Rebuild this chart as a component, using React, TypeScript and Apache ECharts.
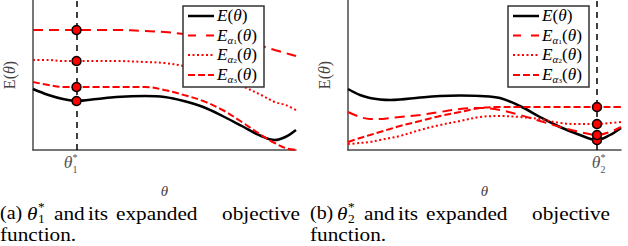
import React, { useEffect, useRef } from "react";
import * as echarts from "echarts";

// ---- data (θ in plot units, E in plot units) ----
const thetaLeft = [0, 16, 31, 45, 66, 86, 116, 136, 156, 176, 196, 216, 236, 250, 261, 272];
const leftE = [61, 55, 51, 49, 51, 53, 54, 53, 49, 43, 34, 24, 14, 10, 13, 20];
const leftA1 = [120, 120, 120, 120, 120, 120, 119, 118, 116, 113, 111, 108, 104, 100, 97, 94];
const leftA2 = [90, 90, 89, 89, 89, 89, 88, 87, 84, 80, 72, 64, 55, 48, 45, 40];
const leftA3 = [68, 65, 63, 63, 63, 63, 63, 60, 55, 49, 40, 28, 15, 7, 2, 0];
const thetaStarLeft = 45;

const thetaRight = [0, 12, 22, 32, 42, 52, 72, 92, 112, 132, 152, 172, 192, 212, 232, 249, 262, 273];
const rightE = [61, 55, 52, 50.5, 50, 50.5, 52.5, 54, 54.5, 54, 52, 44, 33, 23, 15, 10, 15, 22];
const rightA1 = [38, 33, 31, 31, 32, 33, 35, 38, 41, 42, 40, 35, 29, 23, 18, 15, 18, 23];
const rightA2 = [6, 7, 8, 10, 12, 14, 20, 25, 29, 33, 34, 33, 31, 27, 26, 26, 27, 28];
const rightA3 = [8, 12, 15, 18, 21, 24, 29, 34, 38, 42, 43, 43, 43, 43, 43, 43, 43, 43];
const thetaStarRight = 249;

const seriesNames = ["E(θ)", "Eα1(θ)", "Eα2(θ)", "Eα3(θ)"];

const RED = "#ff0000";
const SERIF = "Liberation Serif";
const dashA1 = [10, 6];
const dashA2 = [2, 2.5];
const dashA3 = [7, 3];

const zip = (xs: number[], ys: number[]) => xs.map((x, i) => [x, ys[i]]);

function lineSeries(idx: number, xs: number[], ys: number[], name: string, color: string, width: number, dash: any, extra: any = {}) {
  return {
    type: "line",
    name,
    xAxisIndex: idx,
    yAxisIndex: idx,
    data: zip(xs, ys),
    smooth: 0.35,
    symbol: "none",
    lineStyle: { color, width, type: dash },
    silent: true,
    ...extra,
  };
}

const mathRich = {
  i: { fontFamily: SERIF, fontStyle: "italic", fontSize: 16, lineHeight: 20, color: "#000" },
  r: { fontFamily: SERIF, fontSize: 16, lineHeight: 20, color: "#000" },
  s: { fontFamily: SERIF, fontStyle: "italic", fontSize: 10, lineHeight: 10, verticalAlign: "bottom", color: "#000" },
  ss: { fontFamily: SERIF, fontSize: 7, lineHeight: 6, verticalAlign: "bottom", color: "#000" },
};

function txt(x: number, y: number, text: string, size: number, opts: any = {}) {
  return {
    type: "text",
    x,
    y,
    scaleX: opts.scaleX ?? 1,
    z: opts.z ?? 50,
    style: {
      text,
      fontFamily: SERIF,
      fontSize: size,
      fontStyle: opts.italic ? "italic" : "normal",
      fill: opts.fill ?? "#000",
      align: opts.align ?? "left",
      verticalAlign: "middle",
    },
  };
}

function legendGraphics(bx: number, by: number) {
  const w = 81, h = 81;
  const rows = [10, 29.5, 49, 69];
  const els: any[] = [
    { type: "rect", shape: { x: bx, y: by, width: w, height: h }, style: { fill: "#fff", stroke: "#333", lineWidth: 1.5 }, z: 100 },
  ];
  const styles = [
    { stroke: "#000", lineWidth: 2.5, lineDash: null },
    { stroke: RED, lineWidth: 2, lineDash: [8, 10] },
    { stroke: RED, lineWidth: 2, lineDash: dashA2 },
    { stroke: RED, lineWidth: 2, lineDash: dashA3 },
  ];
  const texts = [
    "{i|E}{r|(}{i|θ}{r|)}",
    "{i|E}{s|α}{ss|1}{r|(}{i|θ}{r|)}",
    "{i|E}{s|α}{ss|2}{r|(}{i|θ}{r|)}",
    "{i|E}{s|α}{ss|3}{r|(}{i|θ}{r|)}",
  ];
  rows.forEach((ry, k) => {
    els.push({
      type: "line",
      shape: { x1: bx + 5, y1: by + ry, x2: bx + 31, y2: by + ry },
      style: styles[k],
      z: 101,
    });
    els.push({
      type: "text",
      x: bx + 34,
      y: by + ry,
      scaleX: 1.08,
      style: { text: texts[k], rich: mathRich, verticalAlign: "middle", align: "left" },
      z: 101,
    });
  });
  return els;
}

function thetaStarLabel(x: number, sub: string) {
  return [
    txt(x - 1, 163, "θ", 16, { italic: true, fill: "#555", align: "center", scaleX: 1.1 }),
    txt(x + 6, 157, "*", 10, { fill: "#555", align: "center" }),
    txt(x + 6, 169, sub, 10, { fill: "#555", align: "center" }),
  ];
}

function caption(x0: number, tag: string, sub: string) {
  const y1 = 213;
  const y2 = 234;
  const sx = 1.12;
  return [
    txt(x0, y1, `(${tag})`, 19, { scaleX: 1.05 }),
    txt(x0 + 27, y1, "θ", 19, { italic: true, scaleX: sx }),
    txt(x0 + 38, y1 - 6, "*", 12, { scaleX: sx }),
    txt(x0 + 38, y1 + 6, sub, 12, { scaleX: sx }),
    txt(x0 + 54, y1, "and", 19, { scaleX: sx }),
    txt(x0 + 88, y1, "its", 19, { scaleX: sx }),
    txt(x0 + 116, y1, "expanded", 19, { scaleX: sx }),
    txt(x0 + 300, y1, "objective", 19, { align: "right", scaleX: sx }),
    txt(x0, y2, "function.", 19, { scaleX: sx }),
  ];
}

function axisPair(idx: number, max: number) {
  const axisLine = { show: true, onZero: false, lineStyle: { color: "#4a4a4a", width: 1.5 } };
  return {
    x: {
      type: "value",
      gridIndex: idx,
      min: 0,
      max,
      axisLine,
      axisTick: { show: false },
      axisLabel: { show: false },
      splitLine: { show: false },
      name: "θ",
      nameLocation: "middle",
      nameGap: 33,
      nameTextStyle: { fontFamily: SERIF, fontStyle: "italic", fontSize: 15, color: "#444" },
    },
    y: {
      type: "value",
      gridIndex: idx,
      min: 0,
      max: 150,
      axisLine,
      axisTick: { show: false },
      axisLabel: { show: false },
      splitLine: { show: false },
      name: "{r|E(}{i|θ}{r|)}",
      nameLocation: "middle",
      nameGap: 16,
      nameTextStyle: {
        rich: {
          r: { fontFamily: SERIF, fontSize: 16, color: "#444" },
          i: { fontFamily: SERIF, fontStyle: "italic", fontSize: 16, color: "#444" },
        },
      },
    },
  };
}

function panelSeries(idx: number, xs: number[], E: number[], A1: number[], A2: number[], A3: number[], star: number) {
  const k = xs.indexOf(star);
  return [
    lineSeries(idx, xs, E, seriesNames[0], "#000", 2.5, "solid", {
      markLine: {
        silent: true,
        symbol: "none",
        label: { show: false },
        lineStyle: { color: "#000", type: [6, 5], width: 1.5 },
        data: [{ xAxis: star }],
        z: 1,
      },
    }),
    lineSeries(idx, xs, A1, seriesNames[1], RED, 2, dashA1),
    lineSeries(idx, xs, A2, seriesNames[2], RED, 2, dashA2),
    lineSeries(idx, xs, A3, seriesNames[3], RED, 2, dashA3),
    {
      type: "scatter",
      xAxisIndex: idx,
      yAxisIndex: idx,
      symbol: "circle",
      symbolSize: 9,
      itemStyle: { color: RED, borderColor: "#000", borderWidth: 1.5, opacity: 1 },
      data: [
        [star, E[k]],
        [star, A1[k]],
        [star, A2[k]],
        [star, A3[k]],
      ],
      z: 5,
      silent: true,
    },
  ];
}

export default function App() {
  const ref = useRef<HTMLDivElement>(null);
  useEffect(() => {
    document.body.style.margin = "0";
    const chart = echarts.init(ref.current!, null, { renderer: "svg" });
    const a0 = axisPair(0, 272);
    const a1 = axisPair(1, 273);
    chart.setOption({
      animation: false,
      backgroundColor: "#fff",
      grid: [
        { left: 24, top: 0, width: 272, height: 150 },
        { left: 348, top: 0, width: 273, height: 150 },
      ],
      xAxis: [a0.x, a1.x],
      yAxis: [a0.y, a1.y],
      series: [
        ...panelSeries(0, thetaLeft, leftE, leftA1, leftA2, leftA3, thetaStarLeft),
        ...panelSeries(1, thetaRight, rightE, rightA1, rightA2, rightA3, thetaStarRight),
      ],
      graphic: [
        ...legendGraphics(183, 6),
        ...legendGraphics(508, 6),
        ...thetaStarLabel(69, "1"),
        ...thetaStarLabel(597, "2"),
        ...caption(0, "a", "1"),
        ...caption(310, "b", "2"),
      ],
    });
    return () => chart.dispose();
  }, []);
  return <div ref={ref} style={{ width: 628, height: 246 }} />;
}
